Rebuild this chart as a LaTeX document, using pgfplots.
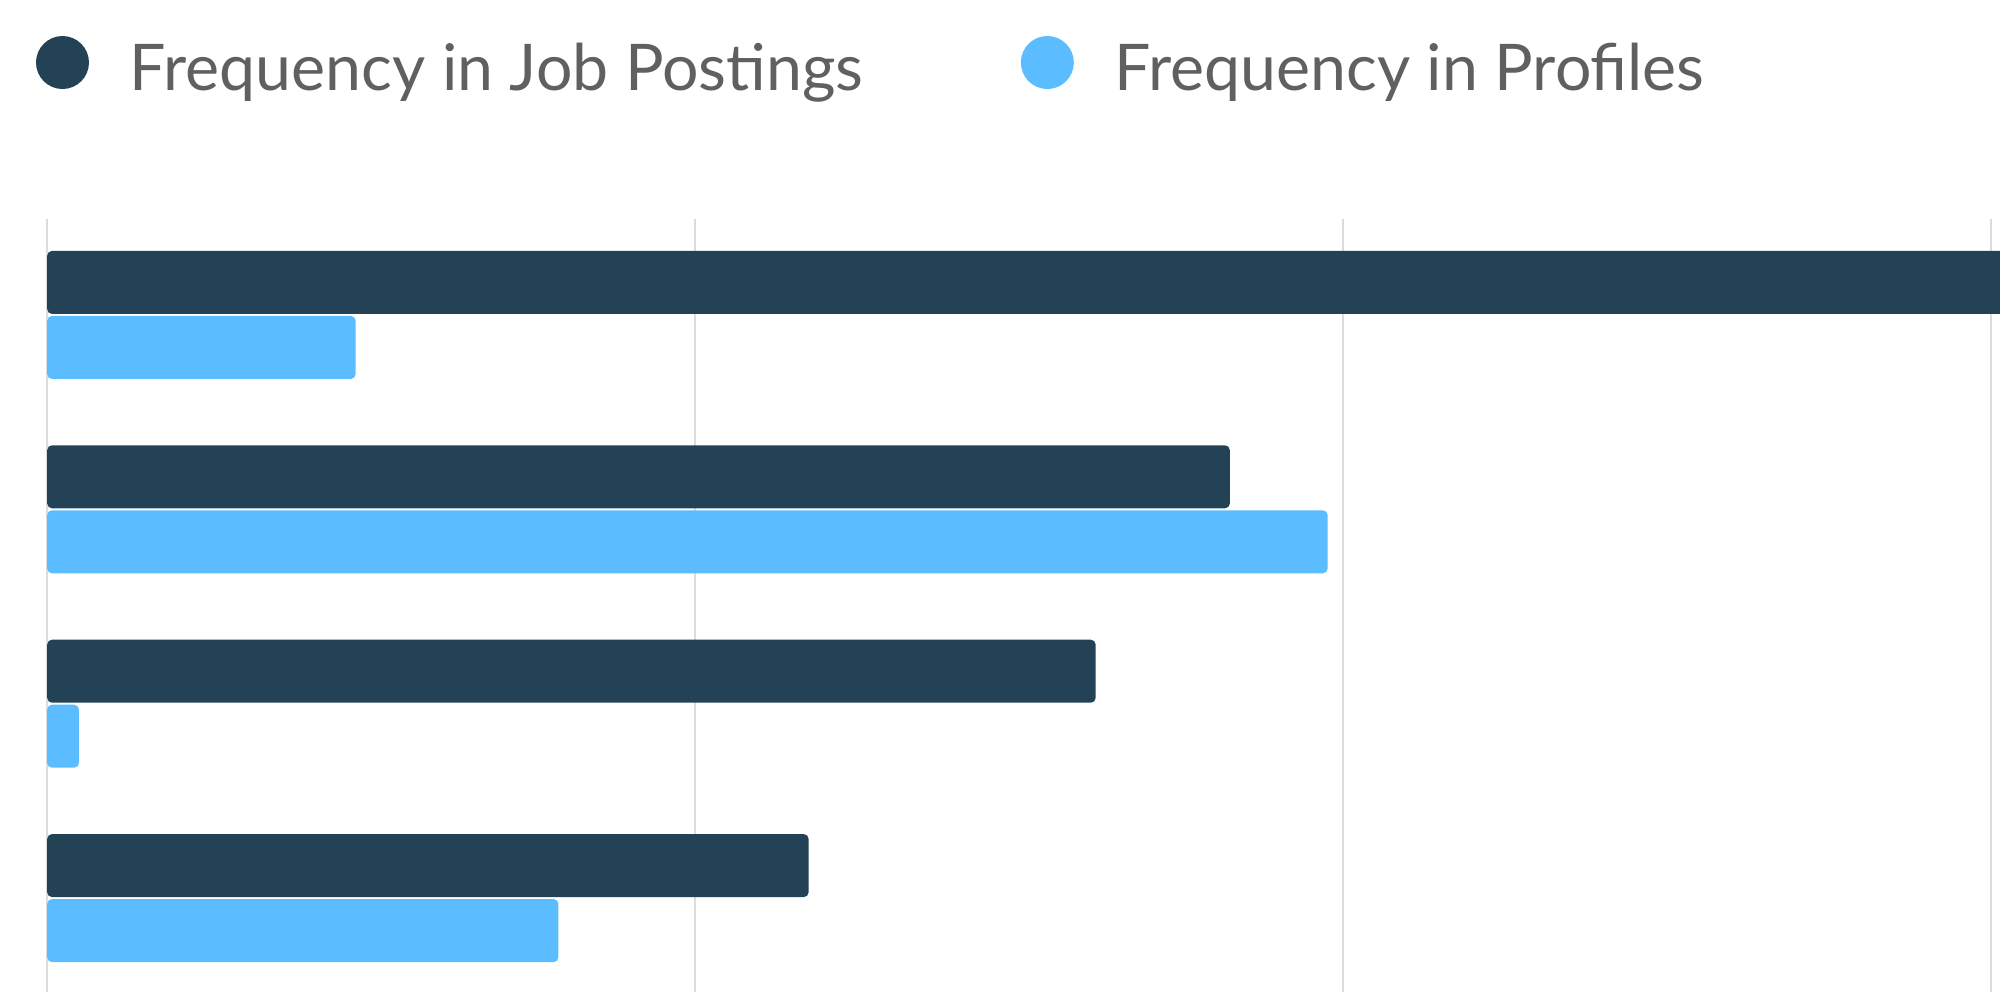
\documentclass[border=0pt]{standalone}
\usepackage{fontspec}
\setmainfont{Lato}
\usepackage{pgfplots}
\pgfplotsset{compat=1.18}
\definecolor{jobdark}{HTML}{234256}
\definecolor{proflight}{HTML}{5BBDFF}
\definecolor{legtext}{HTML}{606060}
\definecolor{gridgray}{HTML}{DCDCDC}

\begin{document}
\begin{tikzpicture}
\begin{axis}[
    at={(0,0)}, anchor=south west,
    scale only axis,
    width=488.2bp, height=193.25bp,
    xbar, bar width=15.75bp,
    xmin=0, xmax=3.0136,
    ymin=-0.483, ymax=3.4935,
    enlargelimits=false,
    xtick={0,1,2,3}, xticklabels={},
    ytick=\empty,
    xmajorgrids,
    major grid style={gridgray, line width=0.6bp},
    axis line style={draw=none},
    tick style={draw=none},
    legend columns=2,
    legend cell align=left,
    legend image code/.code={\fill[#1, draw=none] (6.625bp,6.9bp) circle (6.625bp);},
    legend style={
        at={(-0.00574,1.2367)}, anchor=north west,
        draw=none, fill=none, inner sep=0pt, outer sep=0pt,
        font=\fontsize{16.1bp}{19bp}\selectfont\color{legtext},
        nodes={anchor=base west, inner sep=0pt},
        /tikz/every odd column/.append style={column sep=10.2bp},
        /tikz/every even column/.append style={column sep=39.4bp},
    },
]
\addplot[fill=jobdark, draw=none, rounded corners=1.2bp, bar shift=8.125bp] coordinates {
    (3.3,3) (1.825,2) (1.618,1) (1.175,0)
};
\addplot[fill=proflight, draw=none, rounded corners=1.2bp, bar shift=-8.125bp] coordinates {
    (0.476,3) (1.976,2) (0.049,1) (0.789,0)
};
\legend{Frequency in Job Postings, Frequency in Profiles}
\end{axis}
\pgfresetboundingbox
\path[use as bounding box] (-11.8bp,0) rectangle (488.2bp,248bp);
\end{tikzpicture}
\end{document}
